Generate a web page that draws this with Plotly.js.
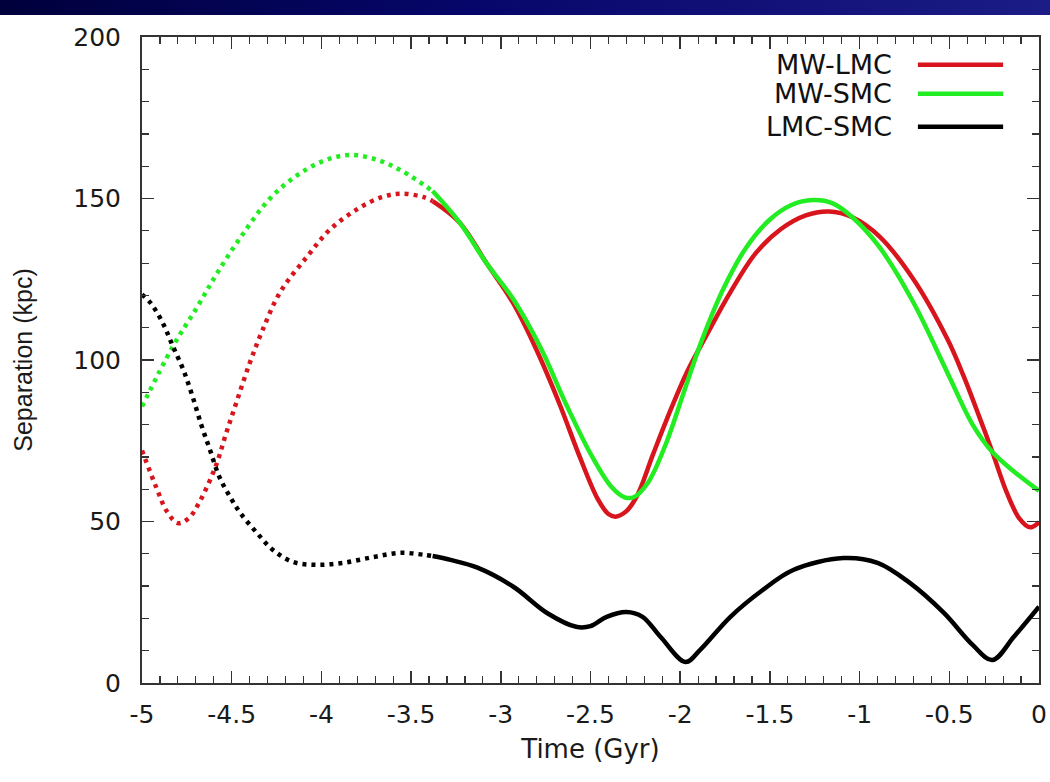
<!DOCTYPE html>
<html><head><meta charset="utf-8">
<script src="https://cdn.plot.ly/plotly-3.0.1.min.js"></script>
<style>
body{margin:0;background:#fff;}
#chart{width:1050px;height:782px;}
#bar{position:absolute;left:0;top:0;width:1050px;height:15px;background:linear-gradient(90deg,#00003c,#06066a 45%,#1c1c86);}
</style>
</head><body>
<div id="chart"></div><div id="bar"></div>
<script>
// Time (Gyr) where the curves switch from dotted to solid
const splitTime = -3.38;

const seriesNames = ["MW-LMC", "MW-SMC", "LMC-SMC"];
const seriesColors = ["#d8141c", "#22ec22", "#000000"];

const mwLmcTime = [-5.00,-4.92,-4.86,-4.80,-4.74,-4.68,-4.59,-4.53,-4.47,-4.40,-4.33,-4.23,-4.08,-3.95,-3.80,-3.66,-3.55,-3.43,-3.38,
  -3.23,-3.08,-2.93,-2.80,-2.67,-2.56,-2.46,-2.40,-2.36,-2.30,-2.24,-2.15,-2.05,-1.96,-1.85,-1.72,-1.58,-1.44,-1.30,-1.17,-1.04,-0.89,-0.70,-0.51,-0.42,-0.33,-0.26,-0.18,-0.11,-0.05,0.00];
const mwLmcSep = [72,60.5,53,49.5,51,56,67,77.5,87.5,99,109,121,132,140.5,146.7,150.5,151.5,150.4,149.2,
  142.6,130,117.5,103,86,70,57,52.3,51.5,53.2,58,71,85,96.5,108,121,133,140.5,144.8,146,144.2,138.3,125,106.4,95,82,71.5,59,51,48.2,49.8];

const mwSmcTime = [-5.00,-4.83,-4.69,-4.58,-4.45,-4.29,-4.14,-3.99,-3.84,-3.69,-3.55,-3.38,
  -3.23,-3.08,-2.93,-2.78,-2.63,-2.49,-2.38,-2.31,-2.26,-2.18,-2.08,-1.98,-1.88,-1.76,-1.63,-1.50,-1.38,-1.26,-1.15,-1.04,-0.89,-0.70,-0.51,-0.37,-0.26,-0.14,0.00];
const mwSmcSep = [85.6,104,116.6,127,138,149.8,157,161.6,163.5,162,158.5,152.3,
  142.6,130,118.8,104,85.6,70,60.5,57.5,57.5,62,74,90,106,122,135,143.5,148,149.5,148.5,144.2,135,117.8,96,80,71.5,65.5,59.5];

const lmcSmcTime = [-5.00,-4.95,-4.88,-4.83,-4.77,-4.72,-4.67,-4.62,-4.57,-4.51,-4.45,-4.36,-4.27,-4.16,-4.03,-3.88,-3.71,-3.56,-3.43,-3.38,
  -3.28,-3.13,-2.93,-2.74,-2.58,-2.50,-2.41,-2.30,-2.21,-2.11,-1.97,-1.89,-1.72,-1.54,-1.37,-1.09,-0.90,-0.72,-0.53,-0.37,-0.26,-0.14,0.00];
const lmcSmcSep = [120.3,117.5,111,104.5,97,89,80,72,64,57.7,52.5,46.5,41.2,37.5,36.6,37.2,39,40.3,39.7,39.3,
  38.1,35.7,29.8,21.6,17.4,17.6,20.5,22,20.5,14.3,6.5,10.2,20.5,28.8,35,38.7,37.2,31,21.7,11.8,7.1,14.3,23.6];

const xTickVals = [-5,-4.5,-4,-3.5,-3,-2.5,-2,-1.5,-1,-0.5,0];
const xTickText = ["-5","-4.5","-4","-3.5","-3","-2.5","-2","-1.5","-1","-0.5","0"];
const yTickVals = [0,50,100,150,200];
const yTickText = ["0","50","100","150","200"];

const allTimes = [mwLmcTime, mwSmcTime, lmcSmcTime];
const allSeps = [mwLmcSep, mwSmcSep, lmcSmcSep];

const traces = [];
for (let i = 0; i < 3; i++) {
  const t = allTimes[i], s = allSeps[i];
  const dx = [], dy = [], sx = [], sy = [];
  for (let k = 0; k < t.length; k++) {
    if (t[k] <= splitTime) { dx.push(t[k]); dy.push(s[k]); }
    if (t[k] >= splitTime) { sx.push(t[k]); sy.push(s[k]); }
  }
  traces.push({x: dx, y: dy, mode: "lines", name: seriesNames[i], showlegend: false,
    line: {color: seriesColors[i], width: 4.5, dash: "4px,5px", shape: "spline", smoothing: 1}});
  traces.push({x: sx, y: sy, mode: "lines", name: seriesNames[i], showlegend: false,
    line: {color: seriesColors[i], width: 4.5, shape: "spline", smoothing: 1}});
}

const tickFont = {family: "DejaVu Sans, sans-serif", size: 25, color: "#1a1a1a"};
const annFont = {family: "DejaVu Sans, sans-serif", size: 27, color: "#111"};
const legendRows = [0.957, 0.912, 0.861];
const annotations = [], shapes = [];
for (let i = 0; i < 3; i++) {
  annotations.push({xref: "paper", yref: "paper", x: 0.838, y: legendRows[i], xanchor: "right", yanchor: "middle",
    text: seriesNames[i], showarrow: false, font: annFont});
  shapes.push({type: "line", xref: "paper", yref: "paper", x0: 0.865, x1: 0.96, y0: legendRows[i], y1: legendRows[i],
    line: {color: seriesColors[i], width: 4.5}});
}

const layout = {
  width: 1050, height: 782,
  margin: {l: 142, r: 11, t: 37, b: 99},
  paper_bgcolor: "#ffffff", plot_bgcolor: "#ffffff",
  showlegend: false,
  xaxis: {range: [-5, 0], tickmode: "array", tickvals: xTickVals, ticktext: xTickText,
    ticks: "inside", ticklen: 12, tickwidth: 1.5, tickcolor: "#333", mirror: "ticks",
    showline: true, linecolor: "#333", linewidth: 2, showgrid: false, zeroline: false,
    minor: {dtick: 0.1, tick0: -5, ticks: "inside", ticklen: 7, tickwidth: 1.2, tickcolor: "#333"},
    tickfont: tickFont, ticklabelstandoff: 8,
    title: {text: "Time (Gyr)", font: {family: "DejaVu Sans, sans-serif", size: 26, color: "#1a1a1a"}, standoff: 12}},
  yaxis: {range: [0, 200], tickmode: "array", tickvals: yTickVals, ticktext: yTickText,
    ticks: "inside", ticklen: 12, tickwidth: 1.5, tickcolor: "#333", mirror: "ticks",
    showline: true, linecolor: "#333", linewidth: 2, showgrid: false, zeroline: false,
    minor: {dtick: 10, tick0: 0, ticks: "inside", ticklen: 7, tickwidth: 1.2, tickcolor: "#333"},
    tickfont: tickFont, ticklabelstandoff: 14,
    title: {text: "Separation (kpc)", font: {family: "Liberation Sans, Arial, sans-serif", size: 25, color: "#1a1a1a"}, standoff: 34}},
  annotations: annotations,
  shapes: shapes
};

Plotly.newPlot("chart", traces, layout, {staticPlot: true, displayModeBar: false});
</script>
</body></html>
